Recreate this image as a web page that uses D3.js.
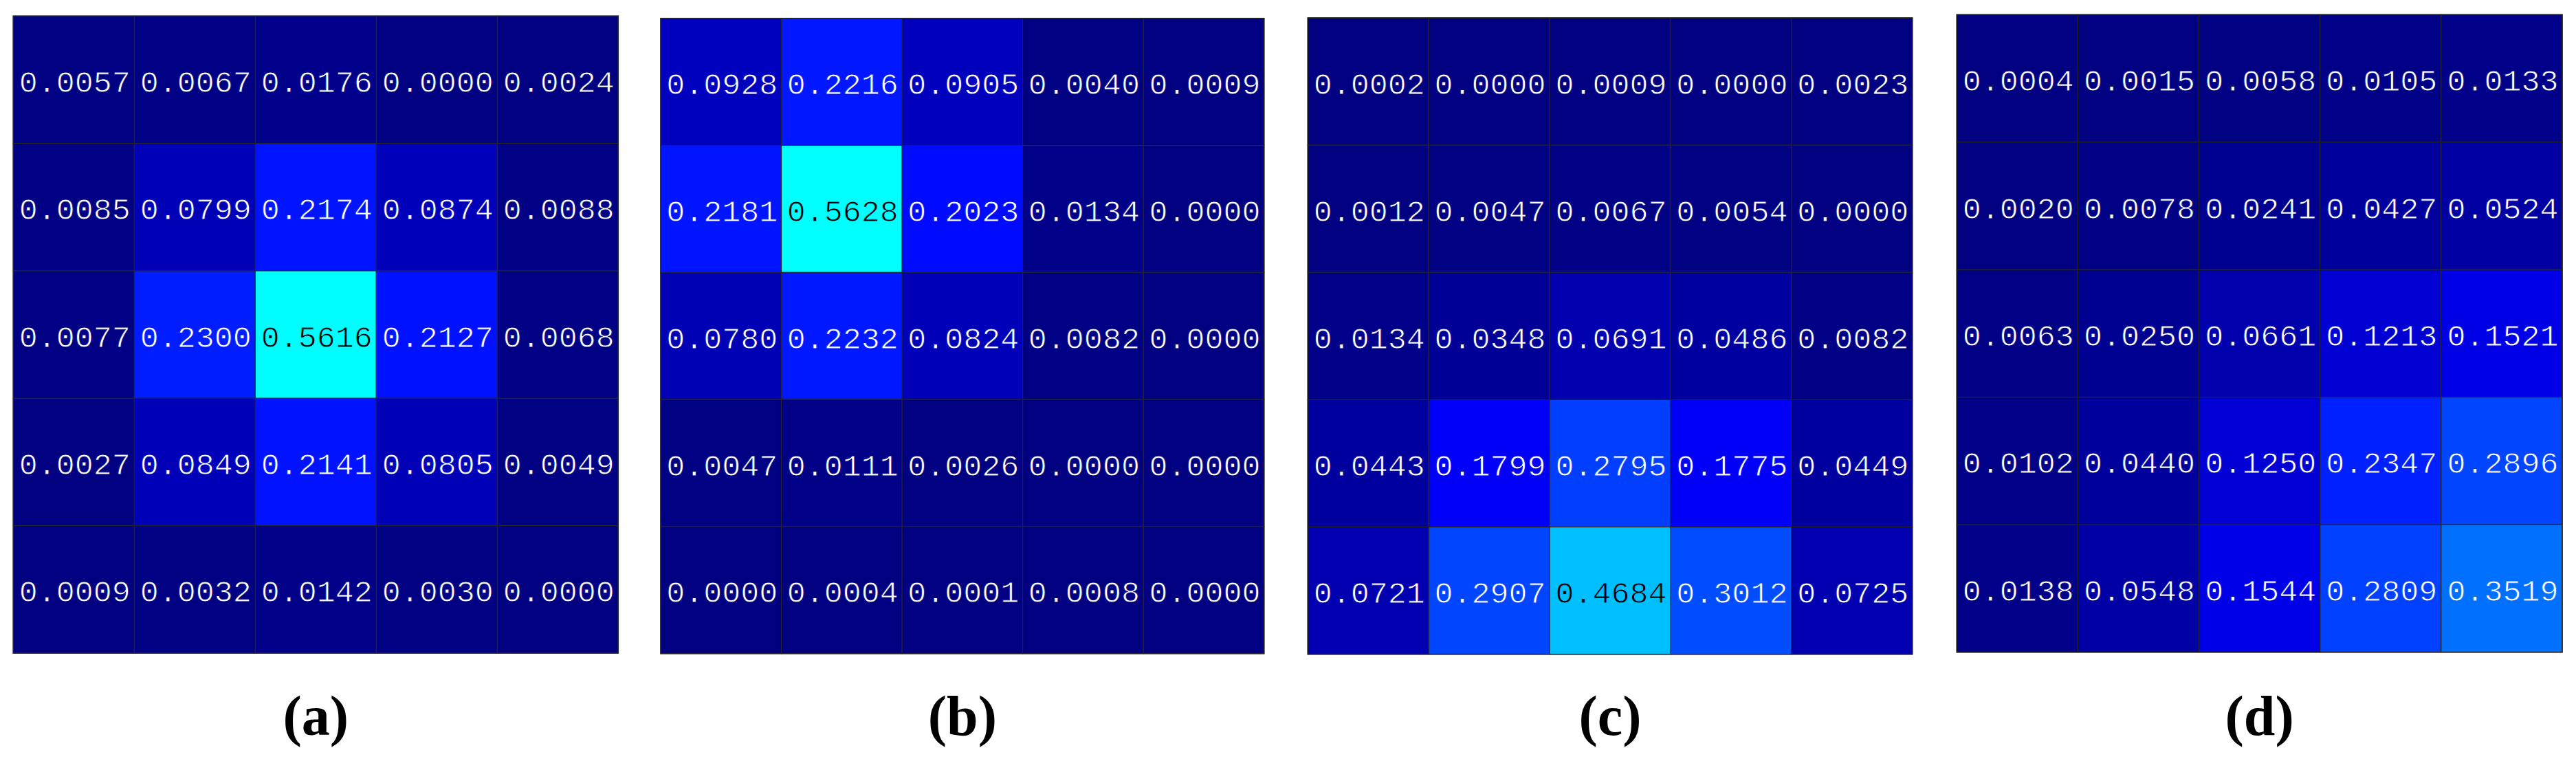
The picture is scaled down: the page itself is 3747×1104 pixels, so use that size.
<!DOCTYPE html>
<html>
<head>
<meta charset="utf-8">
<script src="https://cdn.jsdelivr.net/npm/d3@7"></script>
<style>
  html, body { margin: 0; padding: 0; background: #ffffff; }
  svg { display: block; }
</style>
</head>
<body>
<svg id="chart" width="3747" height="1104"></svg>
<script>
// ---- data ----
const panelLabels = ["(a)", "(b)", "(c)", "(d)"];
const rowIndex = [0, 1, 2, 3, 4];
const colIndex = [0, 1, 2, 3, 4];

const valuesA = [
  [0.0057, 0.0067, 0.0176, 0.0000, 0.0024],
  [0.0085, 0.0799, 0.2174, 0.0874, 0.0088],
  [0.0077, 0.2300, 0.5616, 0.2127, 0.0068],
  [0.0027, 0.0849, 0.2141, 0.0805, 0.0049],
  [0.0009, 0.0032, 0.0142, 0.0030, 0.0000]
];
const valuesB = [
  [0.0928, 0.2216, 0.0905, 0.0040, 0.0009],
  [0.2181, 0.5628, 0.2023, 0.0134, 0.0000],
  [0.0780, 0.2232, 0.0824, 0.0082, 0.0000],
  [0.0047, 0.0111, 0.0026, 0.0000, 0.0000],
  [0.0000, 0.0004, 0.0001, 0.0008, 0.0000]
];
const valuesC = [
  [0.0002, 0.0000, 0.0009, 0.0000, 0.0023],
  [0.0012, 0.0047, 0.0067, 0.0054, 0.0000],
  [0.0134, 0.0348, 0.0691, 0.0486, 0.0082],
  [0.0443, 0.1799, 0.2795, 0.1775, 0.0449],
  [0.0721, 0.2907, 0.4684, 0.3012, 0.0725]
];
const valuesD = [
  [0.0004, 0.0015, 0.0058, 0.0105, 0.0133],
  [0.0020, 0.0078, 0.0241, 0.0427, 0.0524],
  [0.0063, 0.0250, 0.0661, 0.1213, 0.1521],
  [0.0102, 0.0440, 0.1250, 0.2347, 0.2896],
  [0.0138, 0.0548, 0.1544, 0.2809, 0.3519]
];
const colorDomain = [0, 1.5];

// ---- layout (positions / sizes) ----
const layout = [
  { x0: 19.3,   x1: 899.3,  y0: 23.3, y1: 950.0 },
  { x0: 961.0,  x1: 1838.7, y0: 26.7, y1: 950.7 },
  { x0: 1902.3, x1: 2781.7, y0: 26.0, y1: 951.7 },
  { x0: 2846.3, x1: 3727.0, y0: 21.3, y1: 948.7 }
];
const labelBaseline = 1069;

// MATLAB-style jet interpolator
function jet(t) {
  const c = v => Math.max(0, Math.min(1, v));
  const r = c(1.5 - Math.abs(4 * t - 3));
  const g = c(1.5 - Math.abs(4 * t - 2));
  const b = c(1.5 - Math.abs(4 * t - 1));
  return d3.rgb(r * 255, g * 255, b * 255).toString();
}
const color = d3.scaleSequential(jet).domain(colorDomain).clamp(true);

const svg = d3.select("#chart");
const panels = [valuesA, valuesB, valuesC, valuesD];

panels.forEach((vals, p) => {
  const L = layout[p];
  const x = d3.scaleBand().domain(colIndex).range([L.x0, L.x1]).padding(0);
  const y = d3.scaleBand().domain(rowIndex).range([L.y0, L.y1]).padding(0);
  const g = svg.append("g");

  const cells = [];
  rowIndex.forEach(r => colIndex.forEach(c => cells.push({ r, c, v: vals[r][c] })));

  g.selectAll("rect.cell").data(cells).enter().append("rect")
    .attr("class", "cell")
    .attr("x", d => x(d.c))
    .attr("y", d => y(d.r))
    .attr("width", x.bandwidth())
    .attr("height", y.bandwidth())
    .attr("fill", d => color(d.v))
    .attr("stroke", "#262626")
    .attr("stroke-width", 1.1);

  // value labels: a thin stroke in the cell colour drawn over the glyph thins it
  g.selectAll("text.val").data(cells).enter().append("text")
    .attr("class", "val")
    .attr("x", d => x(d.c) + x.bandwidth() / 2 + 1.5)
    .attr("y", d => y(d.r) + y.bandwidth() / 2 + 18)
    .attr("text-anchor", "middle")
    .attr("font-family", "'Liberation Mono', 'DejaVu Sans Mono', monospace")
    .attr("font-size", 45)
    .attr("fill", d => d.v > 0.4 ? "#000000" : "#ffffff")
    .attr("stroke", d => color(d.v))
    .attr("stroke-width", 0.9)
    .text(d => d3.format(".4f")(d.v));

  g.append("rect")
    .attr("x", L.x0).attr("y", L.y0)
    .attr("width", L.x1 - L.x0).attr("height", L.y1 - L.y0)
    .attr("fill", "none")
    .attr("stroke", "#262626")
    .attr("stroke-width", 1.6);

  g.append("text")
    .attr("x", (L.x0 + L.x1) / 2)
    .attr("y", labelBaseline)
    .attr("text-anchor", "middle")
    .attr("font-family", "'Liberation Serif', 'DejaVu Serif', serif")
    .attr("font-weight", "bold")
    .attr("font-size", 82)
    .attr("fill", "#000")
    .text(panelLabels[p]);
});
</script>
</body>
</html>
